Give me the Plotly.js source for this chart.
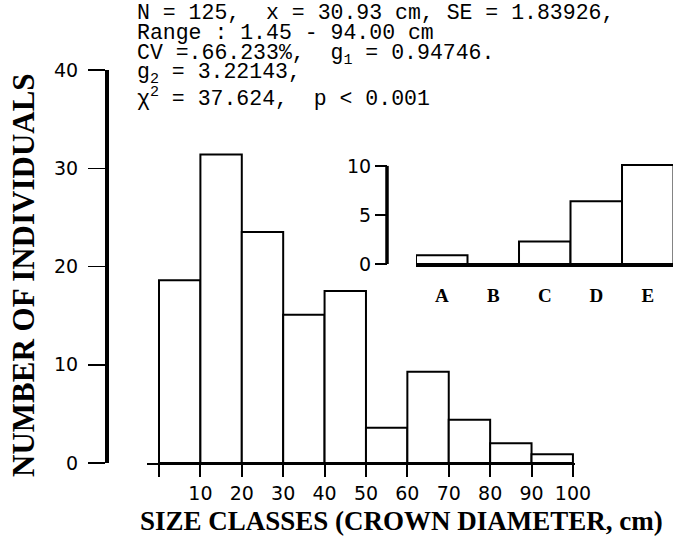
<!DOCTYPE html>
<html>
<head>
<meta charset="utf-8">
<script src="https://cdn.plot.ly/plotly-3.0.1.min.js"></script>
<style>html,body{margin:0;padding:0;background:#fff;}</style>
</head>
<body>
<div id="chart" style="width:673px;height:548px;"></div>
<script>
// Main histogram: size classes (crown diameter, cm)
const classCenters = [5, 15, 25, 35, 45, 55, 65, 75, 85, 95];
const classCounts = [18.6, 31.4, 23.5, 15.1, 17.5, 3.6, 9.3, 4.4, 2.0, 0.9];
const xTickVals = [10, 20, 30, 40, 50, 60, 70, 80, 90, 100];
const xTickText = ["10", "20", "30", "40", "50", "60", "70", "80", "90", "100"];
const xStartTick = [0];
const yTickVals = [0, 10, 20, 30, 40];

// Inset histogram
const insetCats = [0, 1, 2, 3, 4];
const insetLabels = ["A", "B", "C", "D", "E"];
const insetCounts = [0.9, 0, 2.3, 6.4, 10.1];
const insetTickVals = [0, 5, 10];

// Header statistics
const statLines = [
  "N = 125,  x = 30.93 cm, SE = 1.83926,",
  "Range : 1.45 - 94.00 cm",
  "CV =.66.233%,  g<sub>1</sub> = 0.94746.",
  "g<sub>2</sub> = 3.22143,",
  "\u03c7<sup>2</sup> = 37.624,  p < 0.001"
];
const statY = [13, 33, 55, 74, 97];

const W = 673, H = 548;
const px = v => v / W;
const py = v => (H - v) / H;

const numFont = {family: "'DejaVu Sans', Lato, sans-serif", size: 19, color: "#000"};

const traces = [
  {
    type: "bar", x: classCenters, y: classCounts, width: 10,
    marker: {color: "#fff", line: {color: "#000", width: 2}},
    xaxis: "x", yaxis: "y", hoverinfo: "none"
  },
  {
    type: "bar", x: insetCats, y: insetCounts, width: 1,
    marker: {color: "#fff", line: {color: "#000", width: 2}},
    xaxis: "x2", yaxis: "y2", hoverinfo: "none"
  }
];

const annotations = statLines.map((t, i) => ({
  text: t, xref: "paper", yref: "paper", x: px(135), y: py(statY[i]),
  xanchor: "left", yanchor: "middle", showarrow: false,
  font: {family: "'Liberation Mono', 'DejaVu Sans Mono', monospace", size: 21.5, color: "#000"}
}));
annotations.push({
  text: "SIZE CLASSES (CROWN DIAMETER, cm)", xref: "paper", yref: "paper",
  x: px(401), y: py(521), xanchor: "center", yanchor: "middle", showarrow: false,
  font: {family: "'Liberation Serif', 'DejaVu Serif', serif", size: 27, color: "#000", weight: "bold"}
});
annotations.push({
  text: "NUMBER OF INDIVIDUALS", xref: "paper", yref: "paper", textangle: -90,
  x: px(23), y: py(275), xanchor: "center", yanchor: "middle", showarrow: false,
  font: {family: "'Liberation Serif', 'DejaVu Serif', serif", size: 31, color: "#000", weight: "bold"}
});

const layout = {
  width: W, height: H,
  margin: {l: 0, r: 0, t: 0, b: 0},
  paper_bgcolor: "#fff", plot_bgcolor: "rgba(0,0,0,0)",
  showlegend: false, bargap: 0,
  xaxis: {
    domain: [px(147), px(575)], range: [-2.9, 100.5], anchor: "y",
    showline: true, linecolor: "#000", linewidth: 2,
    ticks: "outside", ticklen: 12, tickwidth: 2, tickcolor: "#000",
    tickvals: xTickVals, ticktext: xTickText, tickfont: numFont,
    minor: {tickvals: xStartTick, ticks: "outside", ticklen: 12, tickwidth: 2, tickcolor: "#000", showgrid: false},
    showgrid: false, zeroline: false, fixedrange: true
  },
  yaxis: {
    domain: [1 - 463 / H, 1 - 70 / H], range: [0, 40], anchor: "free", position: px(106),
    showline: true, linecolor: "#000", linewidth: 3.5,
    ticks: "outside", ticklen: 17, tickwidth: 1.5, tickcolor: "#000",
    tickvals: yTickVals, tickfont: numFont, ticklabelstandoff: 6,
    showgrid: false, zeroline: false, fixedrange: true
  },
  xaxis2: {
    domain: [px(416), 1], range: [-0.5, 4.49], anchor: "y2",
    showline: true, linecolor: "#000", linewidth: 2.5,
    ticks: "", tickvals: insetCats, ticktext: insetLabels,
    tickfont: {family: "'Liberation Serif', 'DejaVu Serif', serif", size: 19, color: "#000", weight: "bold"},
    ticklabelstandoff: 13,
    showgrid: false, zeroline: false, fixedrange: true
  },
  yaxis2: {
    domain: [1 - 264 / H, 1 - 160 / H], range: [0, 10.6], anchor: "free", position: px(387),
    showline: false,
    ticks: "outside", ticklen: 12, tickwidth: 1.5, tickcolor: "#000",
    tickvals: insetTickVals, tickfont: numFont,
    showgrid: false, zeroline: false, fixedrange: true
  },
  shapes: [
    {type: "line", xref: "paper", yref: "y2", x0: px(387), x1: px(387), y0: 0, y1: 10,
     line: {color: "#000", width: 3.5}}
  ],
  annotations: annotations
};

Plotly.newPlot("chart", traces, layout, {displayModeBar: false, staticPlot: true});
</script>
</body>
</html>
